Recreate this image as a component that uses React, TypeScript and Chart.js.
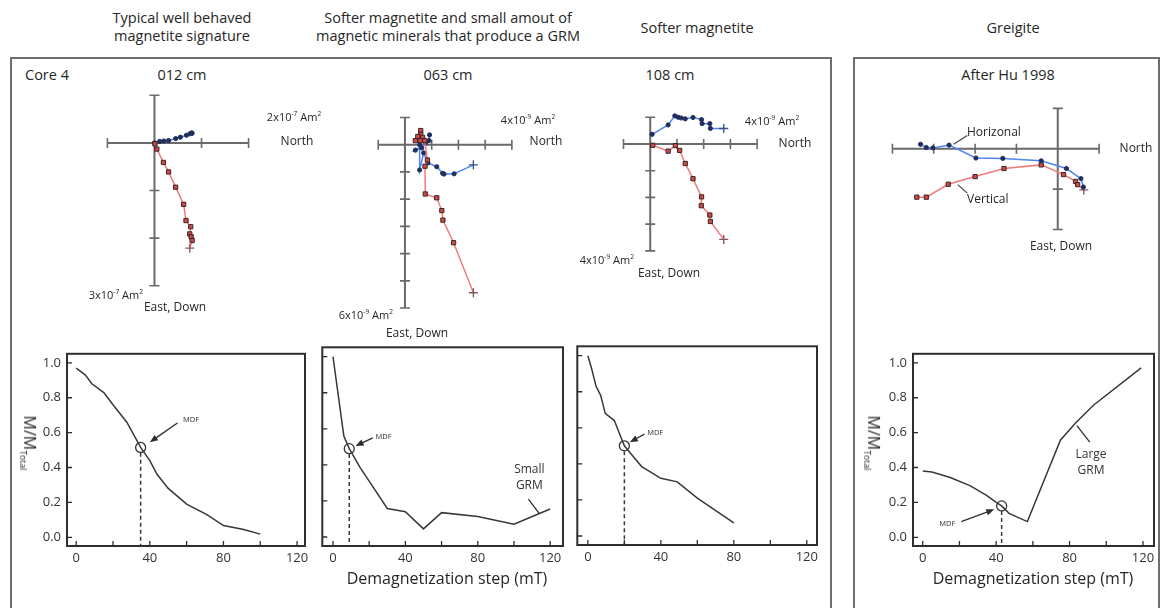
import React, { useEffect, useRef } from "react";
import { Chart, registerables } from "chart.js";
Chart.register(...registerables);

const FONT = "'Open Sans', 'DejaVu Sans', sans-serif";
Chart.defaults.font.family = FONT;

type P = [number, number];

// ---------- Zijderveld data (in units of the axis tick spacing) ----------
const zij012Horizontal: P[] = [[0, 0], [0.11, 0.03], [0.2, 0.04], [0.3, 0.05], [0.45, 0.09], [0.55, 0.12], [0.68, 0.16], [0.75, 0.19], [0.79, 0.21], [0.8, 0.2]];
const zij012Vertical: P[] = [[0.01, -0.02], [0.05, -0.13], [0.19, -0.41], [0.3, -0.61], [0.45, -0.93], [0.62, -1.29], [0.67, -1.63], [0.77, -1.76], [0.75, -1.91], [0.78, -1.97], [0.8, -2.05], [0.75, -2.21]];

const zij063Horizontal: P[] = [[0.92, 0.36], [0.9, 0.15], [0.78, 0.07], [0.39, -0.2], [0.63, -0.12], [0.55, 0.0], [0.55, -0.93], [0.7, -0.3], [0.86, -0.67], [1.19, -0.81], [1.41, -1.05], [1.46, -1.08], [1.84, -1.07], [2.56, -0.74]];
const zij063Vertical: P[] = [[0.59, 0.52], [0.59, 0.38], [0.48, 0.3], [0.66, 0.27], [0.39, 0.15], [0.57, 0.15], [0.74, 0.15], [0.84, -0.56], [0.75, -0.79], [0.76, -1.81], [1.19, -1.95], [1.38, -2.42], [1.42, -2.77], [1.82, -3.6], [2.56, -5.44]];

const zij108Horizontal: P[] = [[0.07, 0.36], [0.67, 0.71], [0.92, 1.05], [1.04, 1.0], [1.16, 0.97], [1.31, 0.94], [1.6, 0.99], [1.92, 0.91], [1.94, 0.76], [2.23, 0.76], [2.25, 0.58], [2.75, 0.58]];
const zij108Vertical: P[] = [[0.09, -0.05], [0.67, -0.27], [0.94, -0.06], [1.1, -0.24], [1.31, -0.73], [1.6, -1.3], [1.92, -1.98], [1.91, -2.31], [2.23, -2.66], [2.25, -2.9], [2.75, -3.57]];

const zijHuHorizontal: P[] = [[-3.32, 0.11], [-3.18, 0.03], [-3.02, 0.02], [-2.63, 0.09], [-1.98, -0.23], [-1.33, -0.24], [-0.4, -0.3], [0.21, -0.49], [0.56, -0.74], [0.62, -0.95]];
const zijHuVertical: P[] = [[-3.41, -1.2], [-3.18, -1.2], [-2.65, -0.88], [-2.0, -0.69], [-1.3, -0.49], [-0.4, -0.4], [0.14, -0.64], [0.43, -0.81], [0.48, -0.89], [0.63, -1.02]];

// ---------- Demagnetization curves ----------
const demagSteps012 = [0, 5, 8.5, 15, 20, 27.5, 35, 40, 44, 50, 60, 71, 80, 91, 100];
const demagValues012 = [0.97, 0.93, 0.88, 0.83, 0.76, 0.66, 0.515, 0.44, 0.36, 0.28, 0.19, 0.13, 0.067, 0.045, 0.018];

const demagSteps063 = [0, 6, 9, 15, 21, 30, 40, 50, 60, 80, 100, 120];
const demagValues063 = [1.0, 0.56, 0.49, 0.385, 0.295, 0.158, 0.14, 0.045, 0.135, 0.113, 0.071, 0.155];

const demagSteps108 = [0, 2, 4.5, 7, 9.5, 14.5, 18, 20, 24.5, 29.5, 40, 49, 60, 80];
const demagValues108 = [1.0, 0.93, 0.83, 0.78, 0.68, 0.64, 0.55, 0.5, 0.445, 0.385, 0.32, 0.3, 0.21, 0.073];

const demagStepsHu = [0, 5, 15, 25.7, 34.8, 40, 43, 47, 57, 75, 83, 93, 119];
const demagValuesHu = [0.38, 0.374, 0.343, 0.296, 0.24, 0.2, 0.18, 0.137, 0.09, 0.557, 0.653, 0.757, 0.971];

const mdf012: P = [35, 0.515];
const mdf063: P = [9, 0.49];
const mdf108: P = [20, 0.5];
const mdfHu: P = [43, 0.18];

const demagTicksX = [0, 40, 80, 120];
const demagTicksY = [0, 0.2, 0.4, 0.6, 0.8, 1.0];

const BLUE_LINE = "#4d86ef";
const BLUE_PT = "#1f2e5c";
const RED_LINE = "#f27a7a";
const RED_PT = "#d24848";
const RED_EDGE = "#3a2626";
const AXIS = "#6a6a6a";
const INK = "#2e2e2e";

type Series = { pts: P[]; kind: "h" | "v"; cross: boolean };

function zijAxes(xr: P, yr: P, leaders: [P, P][]) {
  return {
    id: "zijAxes",
    beforeDatasetsDraw(chart: any) {
      const { ctx, scales } = chart;
      const X = (v: number) => scales.x.getPixelForValue(v);
      const Y = (v: number) => scales.y.getPixelForValue(v);
      ctx.save();
      ctx.strokeStyle = AXIS;
      ctx.lineWidth = 2;
      ctx.beginPath();
      ctx.moveTo(X(xr[0]), Y(0));
      ctx.lineTo(X(xr[1]), Y(0));
      ctx.moveTo(X(0), Y(yr[0]));
      ctx.lineTo(X(0), Y(yr[1]));
      ctx.stroke();
      ctx.lineWidth = 1.6;
      ctx.beginPath();
      for (let v = xr[0]; v <= xr[1]; v++) {
        if (v === 0) continue;
        ctx.moveTo(X(v), Y(0) - 5);
        ctx.lineTo(X(v), Y(0) + 5);
      }
      for (let v = yr[0]; v <= yr[1]; v++) {
        if (v === 0) continue;
        ctx.moveTo(X(0) - 5, Y(v));
        ctx.lineTo(X(0) + 5, Y(v));
      }
      ctx.stroke();
      ctx.strokeStyle = "#444";
      ctx.lineWidth = 1.2;
      ctx.beginPath();
      for (const [a, b] of leaders) {
        ctx.moveTo(X(a[0]), Y(a[1]));
        ctx.lineTo(X(b[0]), Y(b[1]));
      }
      ctx.stroke();
      ctx.restore();
    },
  };
}

function ZijPlot(props: { series: Series[]; ox: number; oy: number; u: number; xr: P; yr: P; leaders?: [P, P][] }) {
  const ref = useRef<HTMLCanvasElement>(null);
  const { series, ox, oy, u, xr, yr } = props;
  const leaders = props.leaders || [];
  const m = 0.5;
  const left = Math.round(ox + (xr[0] - m) * u);
  const top = Math.round(oy - (yr[1] + m) * u);
  const W = Math.round((xr[1] - xr[0] + 2 * m) * u);
  const H = Math.round((yr[1] - yr[0] + 2 * m) * u);
  const xmin = (left - ox) / u;
  const xmax = xmin + W / u;
  const ymax = (oy - top) / u;
  const ymin = ymax - H / u;
  useEffect(() => {
    const datasets = series.map((s) => {
      const last = s.pts.length - 1;
      const isH = s.kind === "h";
      return {
        data: s.pts.map(([x, y]) => ({ x, y })),
        showLine: true,
        borderColor: isH ? BLUE_LINE : RED_LINE,
        borderWidth: 1.5,
        clip: false as any,
        pointStyle: (c: any) => (s.cross && c.dataIndex === last ? "cross" : isH ? "circle" : "rect"),
        pointRadius: (c: any) => (s.cross && c.dataIndex === last ? 4.5 : isH ? 2.1 : 3),
        pointBackgroundColor: isH ? BLUE_PT : RED_PT,
        pointBorderColor: (c: any) => (s.cross && c.dataIndex === last ? (isH ? "#3d5390" : "#8a5560") : isH ? BLUE_PT : RED_EDGE),
        pointBorderWidth: (c: any) => (s.cross && c.dataIndex === last ? 1.4 : 1),
      };
    });
    const chart = new Chart(ref.current as HTMLCanvasElement, {
      type: "scatter",
      data: { datasets: datasets as any },
      options: {
        animation: false,
        responsive: false,
        events: [],
        layout: { padding: 0 },
        plugins: { legend: { display: false }, tooltip: { enabled: false } },
        scales: {
          x: { type: "linear", display: false, min: xmin, max: xmax },
          y: { type: "linear", display: false, min: ymin, max: ymax },
        },
      },
      plugins: [zijAxes(xr, yr, leaders)],
    });
    return () => chart.destroy();
  }, []);
  return <canvas ref={ref} width={W} height={H} style={{ position: "absolute", left, top, width: W, height: H }} />;
}

type Note = { at: P; lines: string[]; align: CanvasTextAlign; size: number };

function demagDecor(arrow: [P, P], leaders: [P, P][], notes: Note[]) {
  return {
    id: "demagDecor",
    afterDatasetsDraw(chart: any) {
      const { ctx, chartArea: a, scales } = chart;
      const X = (v: number) => scales.x.getPixelForValue(v);
      const Y = (v: number) => scales.y.getPixelForValue(v);
      ctx.save();
      ctx.strokeStyle = INK;
      ctx.lineWidth = 2;
      ctx.strokeRect(a.left, a.top, a.right - a.left, a.bottom - a.top);
      ctx.lineWidth = 1.3;
      ctx.beginPath();
      for (let i = 0; i <= 6; i++) {
        const px = X(i * 20);
        ctx.moveTo(px, a.bottom);
        ctx.lineTo(px, a.bottom - 5);
      }
      for (let i = 0; i <= 5; i++) {
        const py = Y(i * 0.2);
        ctx.moveTo(a.left, py);
        ctx.lineTo(a.left + 5, py);
      }
      ctx.stroke();
      // arrow
      const [t, h] = arrow;
      const x1 = X(t[0]), y1 = Y(t[1]), x2 = X(h[0]), y2 = Y(h[1]);
      const ang = Math.atan2(y2 - y1, x2 - x1);
      ctx.lineWidth = 1.3;
      ctx.beginPath();
      ctx.moveTo(x1, y1);
      ctx.lineTo(x2 - 5 * Math.cos(ang), y2 - 5 * Math.sin(ang));
      ctx.stroke();
      ctx.fillStyle = INK;
      ctx.beginPath();
      ctx.moveTo(x2, y2);
      ctx.lineTo(x2 - 8 * Math.cos(ang) + 3.2 * Math.sin(ang), y2 - 8 * Math.sin(ang) - 3.2 * Math.cos(ang));
      ctx.lineTo(x2 - 8 * Math.cos(ang) - 3.2 * Math.sin(ang), y2 - 8 * Math.sin(ang) + 3.2 * Math.cos(ang));
      ctx.closePath();
      ctx.fill();
      ctx.lineWidth = 1.3;
      ctx.beginPath();
      for (const [p, q] of leaders) {
        ctx.moveTo(X(p[0]), Y(p[1]));
        ctx.lineTo(X(q[0]), Y(q[1]));
      }
      ctx.stroke();
      for (const n of notes) {
        ctx.font = `${n.size}px ${FONT}`;
        ctx.textAlign = n.align;
        ctx.textBaseline = "middle";
        ctx.fillStyle = "#333";
        n.lines.forEach((ln, i) => {
          ctx.fillText(ln, X(n.at[0]), Y(n.at[1]) + (i - (n.lines.length - 1) / 2) * (n.size * 1.3));
        });
      }
      ctx.restore();
    },
  };
}

function DemagPlot(props: {
  steps: number[]; values: number[]; box: [number, number, number, number]; xmin: number; xmax: number;
  yLabels: boolean; mdf: P; arrow: [P, P]; leaders: [P, P][]; notes: Note[];
}) {
  const ref = useRef<HTMLCanvasElement>(null);
  const { steps, values, box, xmin, xmax, yLabels, mdf, arrow, leaders, notes } = props;
  const [bl, bt, br, bb] = box;
  const padL = 5, padT = 4, padR = 12, YW = yLabels ? 40 : 0, XH = 30;
  const left = bl - padL - YW;
  const top = bt - padT;
  const W = padL + YW + (br - bl) + padR;
  const H = padT + (bb - bt) + XH;
  const ymin = -0.05, ymax = 1.052;
  useEffect(() => {
    const chart = new Chart(ref.current as HTMLCanvasElement, {
      type: "scatter",
      data: {
        datasets: [
          {
            data: steps.map((s, i) => ({ x: s, y: values[i] })),
            showLine: true, borderColor: "#383838", borderWidth: 1.5, pointRadius: 0,
          },
          {
            data: [{ x: mdf[0], y: mdf[1] - 0.03 }, { x: mdf[0], y: ymin }],
            showLine: true, borderColor: "#383838", borderWidth: 1.5, borderDash: [4, 3], pointRadius: 0,
          },
          {
            data: [{ x: mdf[0], y: mdf[1] }],
            pointRadius: 5, pointStyle: "circle", pointBackgroundColor: "rgba(0,0,0,0)",
            pointBorderColor: "#333", pointBorderWidth: 1.3,
          },
        ] as any,
      },
      options: {
        animation: false,
        responsive: false,
        events: [],
        layout: { padding: { left: padL, top: padT, right: padR, bottom: 0 } },
        plugins: { legend: { display: false }, tooltip: { enabled: false } },
        scales: {
          x: {
            type: "linear", min: xmin, max: xmax,
            afterBuildTicks: (s: any) => { s.ticks = demagTicksX.map((v) => ({ value: v })); },
            afterFit: (s: any) => { s.height = XH; },
            grid: { display: false, drawTicks: false }, border: { display: false },
            ticks: { font: { size: 13 }, color: "#333", padding: 4, maxRotation: 0, autoSkip: false, callback: (v: any) => String(v) },
          },
          y: {
            type: "linear", min: ymin, max: ymax, display: yLabels,
            afterBuildTicks: (s: any) => { s.ticks = demagTicksY.map((v) => ({ value: v })); },
            afterFit: (s: any) => { s.width = YW; },
            grid: { display: false, drawTicks: false }, border: { display: false },
            ticks: { font: { size: 13 }, color: "#333", padding: 6, callback: (v: any) => Number(v).toFixed(1) },
          },
        },
      },
      plugins: [demagDecor(arrow, leaders, notes)],
    });
    return () => chart.destroy();
  }, []);
  return <canvas ref={ref} width={W} height={H} style={{ position: "absolute", left, top, width: W, height: H }} />;
}

function T(props: { x: number; y: number; size?: number; align?: "left" | "center" | "right"; children: any; style?: any }) {
  const { x, y, size = 12, align = "center", children, style } = props;
  const tx = align === "center" ? "-50%" : align === "right" ? "-100%" : "0";
  return (
    <div style={{ position: "absolute", left: x, top: y, transform: `translate(${tx}, -50%)`, fontSize: size, whiteSpace: "nowrap", color: "#262626", fontFamily: FONT, lineHeight: 1.25, textAlign: align, ...style }}>
      {children}
    </div>
  );
}

const Am = (mant: string, exp: string) => (
  <span>
    {mant}x10<sup style={{ fontSize: "0.6em" }}>{exp}</sup> Am<sup style={{ fontSize: "0.6em" }}>2</sup>
  </span>
);

function YTitle({ x, y }: { x: number; y: number }) {
  return (
    <div style={{ position: "absolute", left: x, top: y, transform: "translate(-50%, -50%) rotate(90deg)", fontSize: 16, fontFamily: FONT, color: "#262626", whiteSpace: "nowrap" }}>
      M/M<sub style={{ fontSize: "0.55em" }}>Total</sub>
    </div>
  );
}

export default function App() {
  return (
    <div style={{ position: "fixed", left: 0, top: 0, width: 1163, height: 608, overflow: "hidden", background: "#fff", fontFamily: FONT }}>
      {/* frames */}
      <div style={{ position: "absolute", left: 10, top: 57, width: 822, height: 600, border: "2px solid #6e6e6e", boxSizing: "border-box" }} />
      <div style={{ position: "absolute", left: 853, top: 57, width: 307, height: 600, border: "2px solid #6e6e6e", boxSizing: "border-box" }} />

      {/* headings */}
      <T x={182} y={27} size={14.5}>Typical well behaved<br />magnetite signature</T>
      <T x={448} y={27} size={14.5}>Softer magnetite and small amout of<br />magnetic minerals that produce a GRM</T>
      <T x={697} y={28} size={14.5}>Softer magnetite</T>
      <T x={1013} y={28} size={14.5}>Greigite</T>
      <T x={25} y={75} size={14.5} align="left">Core 4</T>
      <T x={182} y={75} size={14.5}>012 cm</T>
      <T x={448} y={75} size={14.5}>063 cm</T>
      <T x={670} y={75} size={14.5}>108 cm</T>
      <T x={1008} y={75} size={14.5}>After Hu 1998</T>

      {/* Zijderveld plots */}
      <ZijPlot ox={153} oy={140.5} u={50} xr={[-1, 2]} yr={[-3, 1]}
        series={[{ pts: zij012Vertical, kind: "v", cross: true }, { pts: zij012Horizontal, kind: "h", cross: false }]} />
      <ZijPlot ox={402} oy={141} u={28.7} xr={[-1, 4]} yr={[-6, 1]}
        series={[{ pts: zij063Vertical, kind: "v", cross: true }, { pts: zij063Horizontal, kind: "h", cross: true }]} />
      <ZijPlot ox={647.3} oy={141} u={28.7} xr={[-1, 4]} yr={[-4, 1]}
        series={[{ pts: zij108Vertical, kind: "v", cross: true }, { pts: zij108Horizontal, kind: "h", cross: true }]} />
      <ZijPlot ox={1060.7} oy={147.3} u={43.3} xr={[-4, 1]} yr={[-2, 1]}
        leaders={[[[-2.19, 0.33], [-2.52, 0.11]], [[-2.19, -1.1], [-2.42, -0.89]]]}
        series={[{ pts: zijHuHorizontal, kind: "h", cross: false }, { pts: zijHuVertical, kind: "v", cross: true }]} />

      <T x={294} y={117} size={11}>{Am("2", "-7")}</T>
      <T x={297} y={140} size={12}>North</T>
      <T x={143} y={295} size={11} align="right">{Am("3", "-7")}</T>
      <T x={175} y={306} size={12}>East, Down</T>

      <T x={528} y={120} size={11}>{Am("4", "-9")}</T>
      <T x={546} y={140} size={12}>North</T>
      <T x={393} y={315} size={11} align="right">{Am("6", "-9")}</T>
      <T x={417} y={332} size={12}>East, Down</T>

      <T x={772} y={121} size={11}>{Am("4", "-9")}</T>
      <T x={795} y={142} size={12}>North</T>
      <T x={634} y={260} size={11} align="right">{Am("4", "-9")}</T>
      <T x={669} y={272} size={12}>East, Down</T>

      <T x={1136} y={147} size={12}>North</T>
      <T x={1061} y={245} size={12}>East, Down</T>
      <T x={967} y={131} size={12} align="left">Horizonal</T>
      <T x={967} y={198} size={12} align="left">Vertical</T>

      {/* demagnetization curves */}
      <DemagPlot steps={demagSteps012} values={demagValues012} box={[67, 344, 305, 546]} xmin={-5} xmax={124.3} yLabels
        mdf={mdf012} arrow={[[55, 0.655], [40, 0.545]]} leaders={[]}
        notes={[{ at: [58, 0.675], lines: ["MDF"], align: "left", size: 7.5 }]} />
      <DemagPlot steps={demagSteps063} values={demagValues063} box={[321, 345, 563, 546]} xmin={-5.9} xmax={127.1} yLabels={false}
        mdf={mdf063} arrow={[[22, 0.55], [12.5, 0.505]]} leaders={[[[108, 0.21], [114, 0.13]]]}
        notes={[{ at: [23.5, 0.555], lines: ["MDF"], align: "left", size: 7.5 }, { at: [108.5, 0.33], lines: ["Small", "GRM"], align: "center", size: 12 }]} />
      <DemagPlot steps={demagSteps108} values={demagValues108} box={[576, 344, 817, 545]} xmin={-5.8} xmax={125.6} yLabels={false}
        mdf={mdf108} arrow={[[31, 0.565], [23, 0.52]]} leaders={[]}
        notes={[{ at: [32.5, 0.57], lines: ["MDF"], align: "left", size: 7.5 }]} />
      <DemagPlot steps={demagStepsHu} values={demagValuesHu} box={[913, 344, 1154, 546]} xmin={-5.3} xmax={126} yLabels
        mdf={mdfHu} arrow={[[21, 0.09], [39, 0.16]]} leaders={[[[84, 0.64], [91, 0.545]]]}
        notes={[{ at: [17.8, 0.078], lines: ["MDF"], align: "right", size: 7.5 }, { at: [91.7, 0.43], lines: ["Large", "GRM"], align: "center", size: 12 }]} />

      <YTitle x={29} y={443} />
      <YTitle x={873} y={443} />
      <T x={447} y={578} size={16}>Demagnetization step (mT)</T>
      <T x={1033} y={578} size={16}>Demagnetization step (mT)</T>
    </div>
  );
}
